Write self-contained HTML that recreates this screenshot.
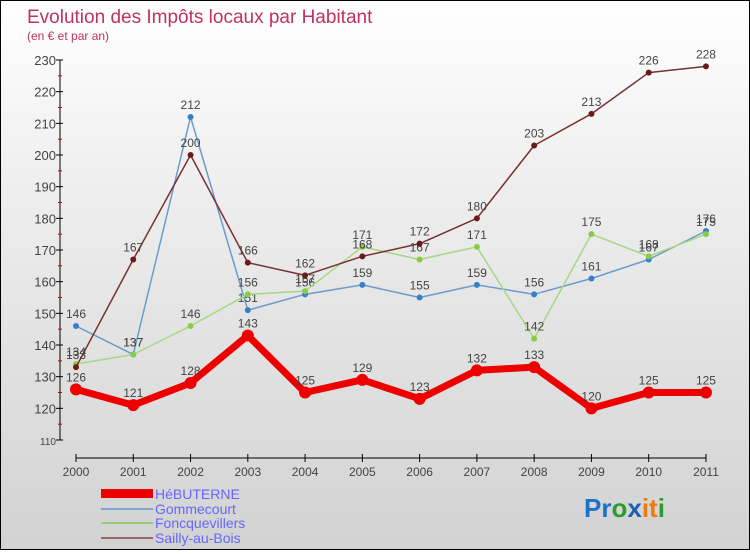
<!DOCTYPE html>
<html><head><meta charset="utf-8"><style>
body{margin:0}
#c{width:748px;height:548px;border:1px solid #000;background:linear-gradient(#fff,#f0f0f0 30%,#d2d2d2);position:relative;font-family:"Liberation Sans",sans-serif}
svg text{font-family:"Liberation Sans",sans-serif}
</style></head><body>
<div id="c">
<svg id="s" width="748" height="548">
<text x="26" y="22" font-size="19" fill="#c0325e">Evolution des Impôts locaux par Habitant</text>
<text x="26" y="39" font-size="12" fill="#c0325e">(en € et par an)</text>
<g id="axes"></g><g id="series"></g>
<g>
<rect x="100" y="488" width="52" height="9" fill="#e00"/>
<text x="154" y="498" font-size="14" fill="#6666ff">HéBUTERNE</text>
<line x1="100" y1="508" x2="152" y2="508" stroke="#7ea6cc" stroke-width="2"/>
<text x="154" y="513" font-size="14" fill="#6666ff">Gommecourt</text>
<line x1="100" y1="522" x2="152" y2="522" stroke="#99cc77" stroke-width="2"/>
<text x="154" y="527" font-size="14" fill="#6666ff">Foncquevillers</text>
<line x1="100" y1="537" x2="152" y2="537" stroke="#996666" stroke-width="2"/>
<text x="154" y="542" font-size="14" fill="#6666ff">Sailly-au-Bois</text>
</g>
<text x="583" y="516" font-size="26" font-weight="bold"><tspan fill="#1a73c8">Pr</tspan><tspan fill="#2a9d2a">o</tspan><tspan fill="#1a5fb4">x</tspan><tspan fill="#f07a10">it</tspan><tspan fill="#2a9d2a">i</tspan></text>
</svg></div>
<script>
const years=[2000,2001,2002,2003,2004,2005,2006,2007,2008,2009,2010,2011];
const yTicks=[110,120,130,140,150,160,170,180,190,200,210,220,230];
const hebuterne=[126,121,128,143,125,129,123,132,133,120,125,125];
const gommecourt=[146,137,212,151,156,159,155,159,156,161,167,176];
const foncquevillers=[134,137,146,156,157,171,167,171,142,175,168,175];
const sailly=[133,167,200,166,162,168,172,180,203,213,226,228];
const NS="http://www.w3.org/2000/svg";
const X=i=>75+i*57.27, Y=v=>439-(v-110)*3.1667;
function mk(t,a,p){const e=document.createElementNS(NS,t);for(const k in a)e.setAttribute(k,a[k]);p.appendChild(e);return e;}
const ax=document.getElementById('axes'), sg=document.getElementById('series');
let l=mk('line',{x1:59,y1:Y(230),x2:59,y2:Y(110),stroke:'#000'},ax);


yTicks.forEach((v,i)=>{
 mk('line',{x1:55,y1:Y(v),x2:62,y2:Y(v),stroke:'#000'},ax);
 if(i<yTicks.length-1){mk('line',{x1:57,y1:Y(v+5),x2:61,y2:Y(v+5),stroke:'#c00'},ax);}
 const t=mk('text',{x:55,y:Y(v)+5,'font-size':v==110?10:13,fill:'#444','text-anchor':'end'},ax);t.textContent=v;
 
 
});
l=mk('line',{x1:X(0),y1:457,x2:X(11),y2:457,stroke:'#000'},ax);


years.forEach((y,i)=>{
 mk('line',{x1:X(i),y1:453,x2:X(i),y2:461,stroke:'#000'},ax);
 const t=mk('text',{x:X(i),y:465+10,'font-size':12,fill:'#444','text-anchor':'middle'},ax);t.textContent=y;
 
 
});
function draw(d,col,w,r,dot,name){
 const p=mk('polyline',{points:d.map((v,i)=>X(i)+','+Y(v)).join(' '),fill:'none',stroke:col,'stroke-width':w,'stroke-linejoin':'round'},sg);
 
 
 d.forEach((v,i)=>{
  const c=mk('circle',{cx:X(i),cy:Y(v),r:r,fill:dot},sg);
  
  
  const t=mk('text',{x:X(i),y:Y(v)-8,'font-size':12,fill:'#444','text-anchor':'middle'},sg);t.textContent=v;
  
  
 });
}
draw(gommecourt,'#6a9ccc',1.5,3,'#3a7fc4','gommecourt');
draw(foncquevillers,'#a6d882',1.5,3,'#88cc44','foncquevillers');
draw(sailly,'#7a3030',1.5,3,'#6a1a1a','sailly');
draw(hebuterne,'#ee0000',7,6,'#ee0000','hebuterne');
</script></body></html>
